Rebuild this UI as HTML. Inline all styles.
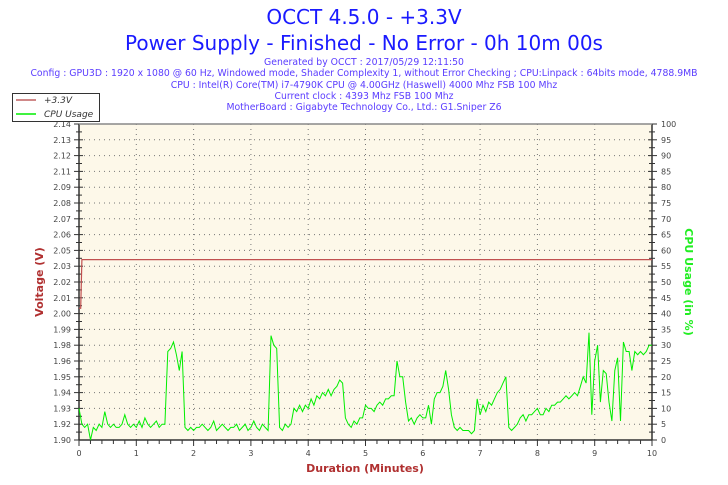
<!DOCTYPE html>
<html><head><meta charset="utf-8"><style>
html,body{margin:0;padding:0;background:#fff;}
svg{display:block;font-family:"DejaVu Sans","Liberation Sans",sans-serif;}
</style></head><body>
<svg id="chart" width="728" height="485" viewBox="0 0 728 485">
<text x="364" y="24" text-anchor="middle" font-size="20" fill="#1a1aff">OCCT 4.5.0 - +3.3V</text>
<text x="364" y="50" text-anchor="middle" font-size="20" fill="#1a1aff">Power Supply - Finished - No Error - 0h 10m 00s</text>
<g font-size="9.3" fill="#5a3cff" text-anchor="middle">
<text x="364" y="65">Generated by OCCT : 2017/05/29 12:11:50</text>
<text x="364" y="76">Config : GPU3D : 1920 x 1080 @ 60 Hz, Windowed mode, Shader Complexity 1, without Error Checking ; CPU:Linpack : 64bits mode, 4788.9MB</text>
<text x="364" y="88">CPU : Intel(R) Core(TM) i7-4790K CPU @ 4.00GHz (Haswell) 4000 Mhz FSB 100 Mhz</text>
<text x="364" y="99">Current clock : 4393 Mhz FSB 100 Mhz</text>
<text x="364" y="110">MotherBoard : Gigabyte Technology Co., Ltd.: G1.Sniper Z6</text>
</g>
<rect x="79" y="124" width="573" height="316" fill="#fdf8e9"/>
<g id="grid"></g>
<g id="axes"></g>
<g id="series"></g>
<line x1="79" y1="124" x2="652" y2="124" stroke="#888" stroke-width="1.5"/>
<text x="365" y="472" text-anchor="middle" font-size="11" font-weight="bold" fill="#b03030">Duration (Minutes)</text>
<text transform="translate(43,282) rotate(-90)" text-anchor="middle" font-size="11" font-weight="bold" fill="#b03030">Voltage (V)</text>
<text transform="translate(685,282) rotate(90)" text-anchor="middle" font-size="11" font-weight="bold" fill="#22ee22">CPU Usage (in %)</text>
<g>
<rect x="12.5" y="93.5" width="87" height="28" fill="#fff" stroke="#333"/>
<line x1="16" y1="100" x2="36" y2="100" stroke="#c06060" stroke-width="1.5"/>
<text x="44" y="103" font-size="9" font-style="italic" fill="#333">+3.3V</text>
<line x1="16" y1="114" x2="36" y2="114" stroke="#00ee00" stroke-width="1.5"/>
<text x="44" y="117" font-size="9" font-style="italic" fill="#333">CPU Usage</text>
</g>
</svg>
<script>
const xTicks=[0,1,2,3,4,5,6,7,8,9,10];
const leftTickLabels=["1.90","1.92","1.93","1.94","1.95","1.96","1.98","1.99","2.00","2.01","2.02","2.03","2.05","2.06","2.07","2.08","2.09","2.11","2.12","2.13","2.14"];
const rightTicks=[0,5,10,15,20,25,30,35,40,45,50,55,60,65,70,75,80,85,90,95,100];
const voltTimes=[0,0.03,0.05,0.06,10];
const voltValues=[2.0,2.0,2.037,2.037,2.037];
const cpuStep=0.05;
const cpuValues=[10,5,4,5,0,4,3,5,4,9,5,4,5,4,4,5,8,5,4,5,
4,6,4,7,5,4,5,6,4,5,5,28,29,31,27,22,28,4,3,4,
3,4,4,5,4,3,4,6,3,4,5,4,3,4,4,5,3,4,5,3,
4,6,4,3,5,4,3,33,30,29,4,3,5,4,5,10,9,11,9,11,
10,13,11,14,13,15,14,16,14,16,17,19,18,7,5,4,6,5,7,7,
11,10,10,9,11,12,11,13,13,14,14,25,20,20,12,6,7,5,7,8,
7,7,11,5,13,15,15,17,22,16,8,4,3,4,3,3,3,2,3,13,
8,11,9,12,11,13,15,16,18,20,4,3,4,5,7,8,6,8,8,9,
10,8,8,10,9,11,11,12,12,13,14,13,14,15,14,17,20,18,34,8,
25,30,12,22,21,12,6,22,26,6,31,28,28,22,28,27,28,27,28,30,30];
const X0=79,X1=652,Y0=440,Y1=124;
const xs=t=>X0+(X1-X0)*t/10;
const yPct=p=>Y0-(Y0-Y1)*p/100;
const yV=v=>Y0-(Y0-Y1)*(v-1.90)/(2.14-1.90);
const NS="http://www.w3.org/2000/svg";
function mk(tag,attrs,parent){const e=document.createElementNS(NS,tag);for(const k in attrs)e.setAttribute(k,attrs[k]);parent.appendChild(e);return e;}
const grid=document.getElementById('grid'),axes=document.getElementById('axes'),series=document.getElementById('series');
rightTicks.forEach((p,i)=>{const y=yPct(p);
 if(i>0&&i<rightTicks.length-1){const g=mk('line',{x1:X0,x2:X1,y1:y,y2:y,stroke:'#777','stroke-dasharray':'1,4'},grid);
 
 }
 mk('line',{x1:X0-5,x2:X0+4,y1:y,y2:y,stroke:'#333'},axes);
 mk('line',{x1:X1-4,x2:X1+5,y1:y,y2:y,stroke:'#333'},axes);
 if(i<rightTicks.length-1){const ym=yPct(p+2.5);mk('line',{x1:X0-3,x2:X0+3,y1:ym,y2:ym,stroke:'#333'},axes);mk('line',{x1:X1-3,x2:X1+3,y1:ym,y2:ym,stroke:'#333'},axes);}
 const tl=mk('text',{x:X0-8,y:y+3,'text-anchor':'end','font-size':8,fill:'#444'},axes);tl.textContent=leftTickLabels[i];
 
 
 const tr=mk('text',{x:X1+9,y:y+3,'font-size':8,fill:'#444'},axes);tr.textContent=p;
 
 
});
xTicks.forEach((t,i)=>{const x=xs(t);
 if(i>0&&i<xTicks.length-1){const g=mk('line',{x1:x,x2:x,y1:Y1,y2:Y0,stroke:'#777','stroke-dasharray':'1,4'},grid);
 
 }
 mk('line',{x1:x,x2:x,y1:Y0,y2:Y0+6,stroke:'#333'},axes);
 if(i<xTicks.length-1)for(let k=1;k<5;k++){const xm=xs(t+k*0.2);mk('line',{x1:xm,x2:xm,y1:Y0,y2:Y0+4,stroke:'#333'},axes);}
 const tx=mk('text',{x:x,y:Y0+16,'text-anchor':'middle','font-size':8,fill:'#444'},axes);tx.textContent=t;
 
 
});
mk('line',{x1:X0,x2:X0,y1:Y1,y2:Y0,stroke:'#333','stroke-width':1.5},axes);
mk('line',{x1:X1,x2:X1,y1:Y1,y2:Y0,stroke:'#333','stroke-width':1.5},axes);
mk('line',{x1:X0,x2:X1,y1:Y0,y2:Y0,stroke:'#333','stroke-width':1.5},axes);
const cpu=mk('polyline',{points:cpuValues.map((v,i)=>xs(i*cpuStep).toFixed(1)+','+yPct(v).toFixed(1)).join(' '),fill:'none',stroke:'#00ee00','stroke-width':1},series);


const volt=mk('polyline',{points:voltTimes.map((t,i)=>xs(t).toFixed(1)+','+yV(voltValues[i]).toFixed(1)).join(' '),fill:'none',stroke:'#c05050','stroke-width':1.2},series);


</script>
</body></html>
